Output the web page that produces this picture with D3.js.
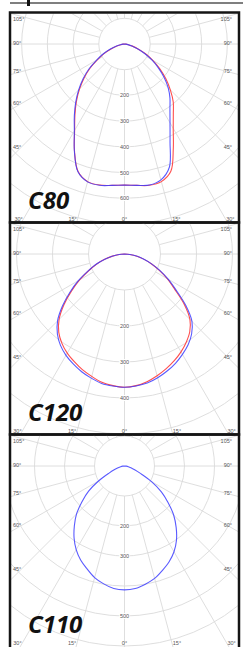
<!DOCTYPE html>
<html><head><meta charset="utf-8">
<script src="https://cdn.jsdelivr.net/npm/d3@7"></script>
<style>html,body{margin:0;padding:0;background:#fff;}svg{display:block;}</style>
</head><body>
<script>
// ---- data ----
const gammaAngles = [0,5,10,15,20,25,30,35,40,45,50,55,60,65,70,75,80,85,90];
const panelNames = ["C80","C120","C110"];
const gridMax = [700,500,600];
const radialTickLabels = [[200,300,400,500,600],[200,300,400],[200,300,500]];
const sideAngleLabels = [105,90,75,60,45];
const bottomAngleLabels = [30,15,0];

const c80BlueLeft  = [549,552,558,555,529,461,390,340,295,252,210,168,125,92,60,36,16,6,0];
const c80BlueRight = [549,552,557,547,510,419,354,308,275,240,200,160,122,85,52,30,14,5,0];
const c80RedLeft   = [549,552,557,554,528,460,388,336,291,247,205,163,120,88,56,33,15,5,0];
const c80RedRight  = [549,552,558,554,527,449,379,331,295,252,210,167,127,90,56,32,15,6,0];

const c120BlueLeft  = [370,368,365,357,348,337,325,310,290,263,225,185,148,112,85,58,35,15,0];
const c120BlueRight = [370,368,364,356,346,335,322,308,290,265,222,175,140,108,80,56,36,15,0];
const c120RedLeft   = [370,367,362,352,342,330,318,303,284,257,220,180,144,110,83,57,34,15,0];
const c120RedRight  = [370,367,360,350,339,327,314,299,282,257,216,170,137,106,79,55,35,15,0];

const c110BlueLeft  = [413,410,399,385,365,346,322,293,260,226,185,146,100,58,35,22,13,6,0];
const c110BlueRight = [413,410,400,388,370,352,330,302,268,232,190,150,104,60,36,22,13,6,0];

const panelSeries = [
  [{left:c80RedLeft,right:c80RedRight,color:"red"},{left:c80BlueLeft,right:c80BlueRight,color:"blue"}],
  [{left:c120RedLeft,right:c120RedRight,color:"red"},{left:c120BlueLeft,right:c120BlueRight,color:"blue"}],
  [{left:c110BlueLeft,right:c110BlueRight,color:"blue"}]
];

// ---- layout ----
const W = 243, H = 647;
const frameX0 = 10, frameX1 = 239;
const panelTops = [12.5, 222.5, 434.5];
const panelBottoms = [222.5, 434.5, 646.5];
const frameBottoms = [222.5, 434.5, 660];
const centerOffset = 31.5;
const cx = 124.5;
const outerR = 180;
const colors = {red:"#ff3b3b", blue:"#3d3dff"};

const svg = d3.select("body").append("svg").attr("width",W).attr("height",H);

// top rule
svg.append("line").attr("x1",10).attr("x2",243).attr("y1",3).attr("y2",3)
  .attr("stroke","#555").attr("stroke-width",1.5);
svg.append("rect").attr("x",27).attr("y",0).attr("width",3).attr("height",6).attr("fill","#111");

const toRad = d => d*Math.PI/180;

panelNames.forEach((name, i) => {
  const top = panelTops[i], bottom = panelBottoms[i], fb = frameBottoms[i];
  const cy = top + centerOffset;
  const r = d3.scaleLinear().domain([0, gridMax[i]]).range([0, outerR]);

  const clipId = "clip"+i;
  svg.append("clipPath").attr("id",clipId).append("rect")
    .attr("x",frameX0+1).attr("y",top+1).attr("width",frameX1-frameX0-2).attr("height",fb-top-2);

  const g = svg.append("g").attr("clip-path",`url(#${clipId})`);
  const pg = g.append("g").attr("transform",`translate(${cx},${cy})`);

  // grid circles
  const circ = d3.range(100, gridMax[i]+1, 100);
  pg.selectAll("circle.grid").data(circ).join("circle")
    .attr("r", d => r(d)).attr("fill","none").attr("stroke","#dadada").attr("stroke-width",0.9);
  // rays
  const rays = d3.range(0, 360, 15);
  pg.selectAll("line.ray").data(rays).join("line")
    .attr("x1", d => r(100)*Math.sin(toRad(d))).attr("y1", d => r(100)*Math.cos(toRad(d)))
    .attr("x2", d => 400*Math.sin(toRad(d))).attr("y2", d => 400*Math.cos(toRad(d)))
    .attr("stroke","#dadada").attr("stroke-width",0.9);

  // radial tick labels
  pg.selectAll("text.rl").data(radialTickLabels[i]).join("text")
    .attr("x",0).attr("y", d => r(d)+2)
    .attr("text-anchor","middle").attr("font-family","Liberation Sans, Arial, sans-serif")
    .attr("font-size",5.5).attr("fill","#555")
    .attr("stroke","#fff").attr("stroke-width",2).attr("paint-order","stroke")
    .text(d => d);

  // curves
  const line = d3.lineRadial().curve(d3.curveCatmullRom.alpha(0.5));
  panelSeries[i].forEach(s => {
    const pts = [];
    for (let k = gammaAngles.length-1; k >= 0; k--) pts.push([Math.PI + toRad(gammaAngles[k]), r(s.left[k])]);
    for (let k = 1; k < gammaAngles.length; k++) pts.push([Math.PI - toRad(gammaAngles[k]), r(s.right[k])]);
    pg.append("path").attr("d", line(pts)).attr("fill","none")
      .attr("stroke", colors[s.color]).attr("stroke-width",1.1)
      .attr("stroke-opacity", s.color==="blue" ? 0.85 : 0.9);
  });

  // side angle labels
  const lbl = {"font-family":"Liberation Sans, Arial, sans-serif","font-size":5.5,"fill":"#555"};
  sideAngleLabels.forEach(a => {
    const dy = 108*Math.cos(toRad(a))/Math.sin(toRad(a));
    let yc = cy + dy*0.96 - 1;
    yc = Math.max(yc, top + 6.5);
    [["start",13],["end",232]].forEach(([anchor,x]) => {
      const t = g.append("text").attr("x",x).attr("y",yc+2).attr("text-anchor",anchor).text(a+"°");
      Object.entries(lbl).forEach(([k,v]) => t.attr(k,v));
    });
  });
  // bottom angle labels
  bottomAngleLabels.forEach(a => {
    const yb = bottom - 2;
    const dx = (yb - 2 - cy)*Math.tan(toRad(a));
    const sides = a===0 ? [["middle",cx]] : [["end",cx-dx-1],["start",cx+dx+1]];
    sides.forEach(([anchor,x]) => {
      const t = g.append("text").attr("x",x).attr("y",yb).attr("text-anchor",anchor).text(a+"°");
      Object.entries(lbl).forEach(([k,v]) => t.attr(k,v));
    });
  });

  // panel name
  g.append("text").attr("x",28).attr("y",bottom-14)
    .attr("font-family","Open Sans, sans-serif").attr("font-weight",700).attr("font-style","italic")
    .attr("font-size",24).attr("fill","#111").text(name);

  // frame
  svg.append("rect").attr("x",frameX0).attr("y",top).attr("width",frameX1-frameX0).attr("height",fb-top)
    .attr("fill","none").attr("stroke","#151515").attr("stroke-width",2.5);
});
</script>
</body></html>
